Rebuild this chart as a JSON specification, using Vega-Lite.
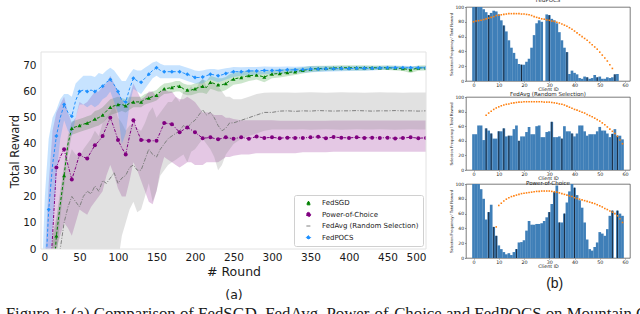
{
"$schema": "https://vega.github.io/schema/vega-lite/v6.json",
"padding": {"left": 5, "top": -3, "right": 0, "bottom": 0},
"background": "white",
"config": {"font": "DejaVu Sans", "axis": {"grid": false, "labelColor": "#1a1a1a", "titleColor": "#1a1a1a", "titleFontWeight": "normal", "labelOverlap": false}, "title": {"fontWeight": "normal", "color": "#1a1a1a"},
"legend": {"orient": "bottom-right", "offset": 3, "fillColor": "white", "strokeColor": "#d0d0d0", "padding": 4, "labelFontSize": 7, "labelFont": "DejaVu Sans", "labelColor": "#1a1a1a", "rowPadding": 3.5, "cornerRadius": 2, "clipHeight": 8, "symbolSize": 18, "symbolStrokeWidth": 1, "symbolOffset": 7, "labelOffset": 10}},
"title": {"text": "Figure 1: (a) Comparison of FedSGD, FedAvg, Power-of-Choice and FedPOCS on Mountain Car", "orient": "bottom", "anchor": "start", "font": "Liberation Serif", "fontSize": 16.8, "offset": 5, "dx": -4},
"spacing": 22,
"resolve": {"scale": {"color": "independent", "shape": "independent", "fillOpacity": "independent", "strokeDash": "independent"}, "legend": {"color": "independent", "shape": "independent"}},
"datasets": {
"curves": [
{"s":"FedSGD","r":0,"lo":-120,"m":-80,"hi":-40},{"s":"FedSGD","r":5,"lo":-100,"m":-65,"hi":-30},{"s":"FedSGD","r":10,"lo":-80,"m":-45,"hi":-15},{"s":"FedSGD","r":15,"lo":-40,"m":-15,"hi":5},{"s":"FedSGD","r":20,"lo":-5,"m":5,"hi":12},{"s":"FedSGD","r":25,"lo":12,"m":17,"hi":22},{"s":"FedSGD","r":30,"lo":24,"m":28,"hi":32},{"s":"FedSGD","r":35,"lo":36,"m":40,"hi":43},{"s":"FedSGD","r":40,"lo":43.5,"m":46,"hi":48.5},{"s":"FedSGD","r":45,"lo":44,"m":46.5,"hi":49},{"s":"FedSGD","r":50,"lo":44.5,"m":47,"hi":49.5},{"s":"FedSGD","r":55,"lo":45,"m":47.5,"hi":50},{"s":"FedSGD","r":60,"lo":45.5,"m":48,"hi":50.5},{"s":"FedSGD","r":65,"lo":46,"m":48.5,"hi":51},{"s":"FedSGD","r":70,"lo":46.5,"m":49.5,"hi":52.5},{"s":"FedSGD","r":75,"lo":47,"m":50,"hi":53},{"s":"FedSGD","r":80,"lo":48,"m":51,"hi":54},{"s":"FedSGD","r":85,"lo":49.5,"m":52.5,"hi":55.5},{"s":"FedSGD","r":90,"lo":51,"m":54,"hi":57},{"s":"FedSGD","r":95,"lo":51.5,"m":54.5,"hi":57.5},{"s":"FedSGD","r":100,"lo":52,"m":55,"hi":58},{"s":"FedSGD","r":105,"lo":52.5,"m":55,"hi":57.5},{"s":"FedSGD","r":110,"lo":52,"m":54.5,"hi":57},{"s":"FedSGD","r":115,"lo":53,"m":55.5,"hi":58},{"s":"FedSGD","r":120,"lo":54,"m":56,"hi":58},{"s":"FedSGD","r":125,"lo":54,"m":56,"hi":58},{"s":"FedSGD","r":130,"lo":54,"m":56,"hi":58},{"s":"FedSGD","r":135,"lo":55,"m":57,"hi":59},{"s":"FedSGD","r":140,"lo":55.5,"m":57.5,"hi":59.5},{"s":"FedSGD","r":145,"lo":56,"m":58,"hi":60},{"s":"FedSGD","r":150,"lo":56.5,"m":58.5,"hi":60.5},{"s":"FedSGD","r":155,"lo":58,"m":60,"hi":62},{"s":"FedSGD","r":160,"lo":59,"m":61,"hi":63},{"s":"FedSGD","r":165,"lo":59.2,"m":61.2,"hi":63.2},{"s":"FedSGD","r":170,"lo":59.5,"m":61.5,"hi":63.5},{"s":"FedSGD","r":175,"lo":60,"m":62,"hi":64},{"s":"FedSGD","r":180,"lo":60,"m":62,"hi":64},{"s":"FedSGD","r":185,"lo":59,"m":61,"hi":63},{"s":"FedSGD","r":190,"lo":58.5,"m":60.5,"hi":62.5},{"s":"FedSGD","r":195,"lo":58.5,"m":60.5,"hi":62.5},{"s":"FedSGD","r":200,"lo":59,"m":61,"hi":63},{"s":"FedSGD","r":205,"lo":59.5,"m":61.5,"hi":63.5},{"s":"FedSGD","r":210,"lo":59.5,"m":62,"hi":64.5},{"s":"FedSGD","r":215,"lo":59,"m":61.5,"hi":64},{"s":"FedSGD","r":220,"lo":61,"m":63.5,"hi":66},{"s":"FedSGD","r":225,"lo":60.5,"m":63,"hi":65.5},{"s":"FedSGD","r":230,"lo":60,"m":62.5,"hi":65},{"s":"FedSGD","r":235,"lo":60,"m":62.5,"hi":65},{"s":"FedSGD","r":240,"lo":60.5,"m":63,"hi":65.5},{"s":"FedSGD","r":245,"lo":61.5,"m":64,"hi":66.5},{"s":"FedSGD","r":250,"lo":62.5,"m":64.7,"hi":67},{"s":"FedSGD","r":260,"lo":63,"m":65.3,"hi":67.5},{"s":"FedSGD","r":270,"lo":64,"m":66,"hi":68},{"s":"FedSGD","r":280,"lo":64.5,"m":66.2,"hi":68},{"s":"FedSGD","r":290,"lo":63.5,"m":65.5,"hi":67.5},{"s":"FedSGD","r":300,"lo":65,"m":66.6,"hi":68.2},{"s":"FedSGD","r":310,"lo":65.3,"m":66.8,"hi":68.3},{"s":"FedSGD","r":320,"lo":65.8,"m":67.2,"hi":68.6},{"s":"FedSGD","r":330,"lo":66.2,"m":67.5,"hi":68.8},{"s":"FedSGD","r":340,"lo":66.8,"m":68,"hi":69.2},{"s":"FedSGD","r":350,"lo":67.3,"m":68.5,"hi":69.7},{"s":"FedSGD","r":360,"lo":67.6,"m":68.7,"hi":69.8},{"s":"FedSGD","r":370,"lo":67.8,"m":68.8,"hi":69.8},{"s":"FedSGD","r":380,"lo":67.9,"m":68.9,"hi":69.9},{"s":"FedSGD","r":390,"lo":68,"m":69,"hi":70},{"s":"FedSGD","r":400,"lo":68,"m":69,"hi":70},{"s":"FedSGD","r":410,"lo":68,"m":69,"hi":70},{"s":"FedSGD","r":420,"lo":68,"m":69,"hi":70},{"s":"FedSGD","r":430,"lo":68.1,"m":69,"hi":69.9},{"s":"FedSGD","r":440,"lo":68.1,"m":69,"hi":69.9},{"s":"FedSGD","r":450,"lo":68.1,"m":69,"hi":69.9},{"s":"FedSGD","r":460,"lo":68,"m":68.9,"hi":69.8},{"s":"FedSGD","r":470,"lo":67.8,"m":68.7,"hi":69.6},{"s":"FedSGD","r":480,"lo":67,"m":68.2,"hi":69.4},{"s":"FedSGD","r":490,"lo":67.9,"m":68.9,"hi":69.9},{"s":"FedSGD","r":500,"lo":68,"m":69,"hi":70},
{"s":"Power-of-Choice","r":0,"lo":-150,"m":-60,"hi":-20},{"s":"Power-of-Choice","r":5,"lo":-120,"m":-40,"hi":-5},{"s":"Power-of-Choice","r":10,"lo":-80,"m":-20,"hi":25},{"s":"Power-of-Choice","r":15,"lo":-40,"m":5,"hi":45},{"s":"Power-of-Choice","r":20,"lo":0,"m":31,"hi":52},{"s":"Power-of-Choice","r":25,"lo":5,"m":35,"hi":55},{"s":"Power-of-Choice","r":30,"lo":10,"m":38,"hi":58},{"s":"Power-of-Choice","r":35,"lo":8,"m":32,"hi":52},{"s":"Power-of-Choice","r":40,"lo":5,"m":26.5,"hi":48},{"s":"Power-of-Choice","r":45,"lo":10,"m":31,"hi":50},{"s":"Power-of-Choice","r":50,"lo":15,"m":36,"hi":56},{"s":"Power-of-Choice","r":55,"lo":14,"m":35,"hi":55},{"s":"Power-of-Choice","r":60,"lo":13,"m":34.5,"hi":56},{"s":"Power-of-Choice","r":65,"lo":16,"m":37,"hi":58},{"s":"Power-of-Choice","r":70,"lo":18,"m":39.5,"hi":60},{"s":"Power-of-Choice","r":75,"lo":20,"m":41,"hi":60},{"s":"Power-of-Choice","r":80,"lo":22,"m":43,"hi":62},{"s":"Power-of-Choice","r":85,"lo":28,"m":46.5,"hi":63},{"s":"Power-of-Choice","r":90,"lo":32,"m":50,"hi":66},{"s":"Power-of-Choice","r":95,"lo":28,"m":46,"hi":63},{"s":"Power-of-Choice","r":100,"lo":23,"m":41.5,"hi":60},{"s":"Power-of-Choice","r":105,"lo":20,"m":38.5,"hi":57},{"s":"Power-of-Choice","r":110,"lo":20,"m":36,"hi":54},{"s":"Power-of-Choice","r":115,"lo":26,"m":43,"hi":58},{"s":"Power-of-Choice","r":120,"lo":33,"m":49,"hi":63},{"s":"Power-of-Choice","r":125,"lo":30,"m":45,"hi":60},{"s":"Power-of-Choice","r":130,"lo":26,"m":41.5,"hi":57},{"s":"Power-of-Choice","r":135,"lo":22,"m":41.5,"hi":58},{"s":"Power-of-Choice","r":140,"lo":18,"m":41.2,"hi":60},{"s":"Power-of-Choice","r":145,"lo":17,"m":41.2,"hi":60},{"s":"Power-of-Choice","r":150,"lo":22,"m":41.2,"hi":58},{"s":"Power-of-Choice","r":155,"lo":30,"m":44.5,"hi":60},{"s":"Power-of-Choice","r":160,"lo":35,"m":48,"hi":61},{"s":"Power-of-Choice","r":165,"lo":34,"m":47.8,"hi":60},{"s":"Power-of-Choice","r":170,"lo":33,"m":47.5,"hi":60},{"s":"Power-of-Choice","r":175,"lo":32,"m":46,"hi":58},{"s":"Power-of-Choice","r":180,"lo":31,"m":44.4,"hi":57},{"s":"Power-of-Choice","r":185,"lo":32,"m":45.4,"hi":57},{"s":"Power-of-Choice","r":190,"lo":33,"m":46.3,"hi":58},{"s":"Power-of-Choice","r":195,"lo":33,"m":45.4,"hi":57},{"s":"Power-of-Choice","r":200,"lo":32,"m":44.4,"hi":56},{"s":"Power-of-Choice","r":205,"lo":32,"m":43.3,"hi":54},{"s":"Power-of-Choice","r":210,"lo":32,"m":42.2,"hi":52},{"s":"Power-of-Choice","r":215,"lo":33,"m":42.3,"hi":52},{"s":"Power-of-Choice","r":220,"lo":33,"m":42.5,"hi":52},{"s":"Power-of-Choice","r":225,"lo":33,"m":42.1,"hi":51},{"s":"Power-of-Choice","r":230,"lo":33,"m":41.8,"hi":51},{"s":"Power-of-Choice","r":235,"lo":34,"m":42.1,"hi":51},{"s":"Power-of-Choice","r":240,"lo":35,"m":42.5,"hi":50},{"s":"Power-of-Choice","r":245,"lo":35,"m":42.2,"hi":50},{"s":"Power-of-Choice","r":250,"lo":35.5,"m":42,"hi":49.5},{"s":"Power-of-Choice","r":260,"lo":36,"m":42.5,"hi":49},{"s":"Power-of-Choice","r":270,"lo":36,"m":42,"hi":49},{"s":"Power-of-Choice","r":280,"lo":36.5,"m":42.8,"hi":49},{"s":"Power-of-Choice","r":290,"lo":36.5,"m":42.3,"hi":49},{"s":"Power-of-Choice","r":300,"lo":36.5,"m":42.5,"hi":49},{"s":"Power-of-Choice","r":310,"lo":36.5,"m":42.2,"hi":48.8},{"s":"Power-of-Choice","r":320,"lo":36.5,"m":42.4,"hi":48.8},{"s":"Power-of-Choice","r":330,"lo":36.5,"m":42.3,"hi":48.8},{"s":"Power-of-Choice","r":340,"lo":36.8,"m":42.3,"hi":48.8},{"s":"Power-of-Choice","r":350,"lo":36.8,"m":42.5,"hi":48.8},{"s":"Power-of-Choice","r":360,"lo":36.8,"m":42.7,"hi":48.8},{"s":"Power-of-Choice","r":370,"lo":36.8,"m":42.2,"hi":48.8},{"s":"Power-of-Choice","r":380,"lo":37,"m":42.6,"hi":48.9},{"s":"Power-of-Choice","r":390,"lo":37,"m":42.4,"hi":48.9},{"s":"Power-of-Choice","r":400,"lo":37,"m":42.3,"hi":48.9},{"s":"Power-of-Choice","r":410,"lo":37,"m":42.5,"hi":48.9},{"s":"Power-of-Choice","r":420,"lo":37,"m":42.3,"hi":48.9},{"s":"Power-of-Choice","r":430,"lo":37,"m":42.4,"hi":48.9},{"s":"Power-of-Choice","r":440,"lo":37,"m":42.3,"hi":48.9},{"s":"Power-of-Choice","r":450,"lo":37,"m":42.4,"hi":48.9},{"s":"Power-of-Choice","r":460,"lo":37,"m":42.1,"hi":48.9},{"s":"Power-of-Choice","r":470,"lo":37,"m":42.3,"hi":48.9},{"s":"Power-of-Choice","r":480,"lo":37,"m":42.5,"hi":48.9},{"s":"Power-of-Choice","r":490,"lo":37,"m":42.2,"hi":48.9},{"s":"Power-of-Choice","r":500,"lo":37,"m":42.3,"hi":48.9},
{"s":"FedAvg (Random Selection)","r":0,"lo":-200,"m":-80,"hi":-40},{"s":"FedAvg (Random Selection)","r":5,"lo":-180,"m":-60,"hi":-25},{"s":"FedAvg (Random Selection)","r":10,"lo":-150,"m":-40,"hi":-10},{"s":"FedAvg (Random Selection)","r":15,"lo":-100,"m":-20,"hi":2},{"s":"FedAvg (Random Selection)","r":20,"lo":-50,"m":-8,"hi":10},{"s":"FedAvg (Random Selection)","r":25,"lo":-40,"m":0,"hi":18},{"s":"FedAvg (Random Selection)","r":30,"lo":-30,"m":10,"hi":28},{"s":"FedAvg (Random Selection)","r":35,"lo":-20,"m":16,"hi":33},{"s":"FedAvg (Random Selection)","r":40,"lo":-15,"m":20,"hi":38},{"s":"FedAvg (Random Selection)","r":45,"lo":-20,"m":18,"hi":36},{"s":"FedAvg (Random Selection)","r":50,"lo":-25,"m":16,"hi":35},{"s":"FedAvg (Random Selection)","r":55,"lo":-15,"m":20,"hi":38},{"s":"FedAvg (Random Selection)","r":60,"lo":-10,"m":22,"hi":40},{"s":"FedAvg (Random Selection)","r":65,"lo":-5,"m":21,"hi":42},{"s":"FedAvg (Random Selection)","r":70,"lo":-3,"m":24,"hi":45},{"s":"FedAvg (Random Selection)","r":75,"lo":-8,"m":22,"hi":43},{"s":"FedAvg (Random Selection)","r":80,"lo":-2,"m":26,"hi":48},{"s":"FedAvg (Random Selection)","r":85,"lo":-8,"m":25,"hi":50},{"s":"FedAvg (Random Selection)","r":90,"lo":-5,"m":27,"hi":52},{"s":"FedAvg (Random Selection)","r":95,"lo":0,"m":29,"hi":55},{"s":"FedAvg (Random Selection)","r":100,"lo":-5,"m":25,"hi":50},{"s":"FedAvg (Random Selection)","r":105,"lo":5,"m":27,"hi":48},{"s":"FedAvg (Random Selection)","r":110,"lo":10,"m":28,"hi":45},{"s":"FedAvg (Random Selection)","r":115,"lo":15,"m":31,"hi":47},{"s":"FedAvg (Random Selection)","r":120,"lo":18,"m":32,"hi":48},{"s":"FedAvg (Random Selection)","r":125,"lo":14,"m":30,"hi":46},{"s":"FedAvg (Random Selection)","r":130,"lo":15,"m":30,"hi":45},{"s":"FedAvg (Random Selection)","r":135,"lo":20,"m":34,"hi":48},{"s":"FedAvg (Random Selection)","r":140,"lo":25,"m":38,"hi":52},{"s":"FedAvg (Random Selection)","r":145,"lo":18,"m":36,"hi":54},{"s":"FedAvg (Random Selection)","r":150,"lo":22,"m":35,"hi":50},{"s":"FedAvg (Random Selection)","r":155,"lo":28,"m":38,"hi":52},{"s":"FedAvg (Random Selection)","r":160,"lo":30,"m":40,"hi":54},{"s":"FedAvg (Random Selection)","r":165,"lo":32,"m":42,"hi":56},{"s":"FedAvg (Random Selection)","r":170,"lo":33,"m":43,"hi":56},{"s":"FedAvg (Random Selection)","r":175,"lo":34,"m":44,"hi":58},{"s":"FedAvg (Random Selection)","r":180,"lo":35,"m":45,"hi":56},{"s":"FedAvg (Random Selection)","r":185,"lo":36,"m":47,"hi":60},{"s":"FedAvg (Random Selection)","r":190,"lo":33,"m":46,"hi":60},{"s":"FedAvg (Random Selection)","r":195,"lo":37,"m":48,"hi":62},{"s":"FedAvg (Random Selection)","r":200,"lo":38,"m":49,"hi":60},{"s":"FedAvg (Random Selection)","r":205,"lo":40,"m":51,"hi":63},{"s":"FedAvg (Random Selection)","r":210,"lo":42,"m":53,"hi":65},{"s":"FedAvg (Random Selection)","r":215,"lo":40,"m":51,"hi":62},{"s":"FedAvg (Random Selection)","r":220,"lo":38,"m":52,"hi":64},{"s":"FedAvg (Random Selection)","r":225,"lo":35,"m":50,"hi":63},{"s":"FedAvg (Random Selection)","r":230,"lo":30,"m":47,"hi":62},{"s":"FedAvg (Random Selection)","r":235,"lo":32,"m":45,"hi":60},{"s":"FedAvg (Random Selection)","r":240,"lo":36,"m":46,"hi":58},{"s":"FedAvg (Random Selection)","r":245,"lo":38,"m":48,"hi":58},{"s":"FedAvg (Random Selection)","r":250,"lo":40,"m":48,"hi":57},{"s":"FedAvg (Random Selection)","r":260,"lo":42,"m":49,"hi":57},{"s":"FedAvg (Random Selection)","r":270,"lo":43,"m":50,"hi":58},{"s":"FedAvg (Random Selection)","r":280,"lo":44,"m":51,"hi":59},{"s":"FedAvg (Random Selection)","r":290,"lo":45,"m":52,"hi":59.5},{"s":"FedAvg (Random Selection)","r":300,"lo":45.5,"m":52,"hi":59.6},{"s":"FedAvg (Random Selection)","r":310,"lo":45.5,"m":52.5,"hi":59.6},{"s":"FedAvg (Random Selection)","r":320,"lo":45.5,"m":52.6,"hi":59.6},{"s":"FedAvg (Random Selection)","r":330,"lo":45.5,"m":52.4,"hi":59.5},{"s":"FedAvg (Random Selection)","r":340,"lo":45.6,"m":52.6,"hi":59.6},{"s":"FedAvg (Random Selection)","r":350,"lo":45.4,"m":52.5,"hi":59.7},{"s":"FedAvg (Random Selection)","r":360,"lo":45.5,"m":52.7,"hi":59.6},{"s":"FedAvg (Random Selection)","r":370,"lo":45.6,"m":52.6,"hi":59.5},{"s":"FedAvg (Random Selection)","r":380,"lo":45.5,"m":52.5,"hi":59.6},{"s":"FedAvg (Random Selection)","r":390,"lo":45.4,"m":52.6,"hi":59.7},{"s":"FedAvg (Random Selection)","r":400,"lo":45.5,"m":52.6,"hi":59.6},{"s":"FedAvg (Random Selection)","r":410,"lo":45.6,"m":52.7,"hi":59.6},{"s":"FedAvg (Random Selection)","r":420,"lo":45.5,"m":52.6,"hi":59.5},{"s":"FedAvg (Random Selection)","r":430,"lo":45.5,"m":52.5,"hi":59.6},{"s":"FedAvg (Random Selection)","r":440,"lo":45.6,"m":52.6,"hi":59.7},{"s":"FedAvg (Random Selection)","r":450,"lo":45.5,"m":52.6,"hi":59.6},{"s":"FedAvg (Random Selection)","r":460,"lo":45.4,"m":52.7,"hi":59.6},{"s":"FedAvg (Random Selection)","r":470,"lo":45.5,"m":52.6,"hi":59.5},{"s":"FedAvg (Random Selection)","r":480,"lo":45.6,"m":52.6,"hi":59.6},{"s":"FedAvg (Random Selection)","r":490,"lo":45.5,"m":52.5,"hi":59.6},{"s":"FedAvg (Random Selection)","r":500,"lo":45.5,"m":52.6,"hi":59.6},
{"s":"FedPOCS","r":0,"lo":-100,"m":-60,"hi":-20},{"s":"FedPOCS","r":5,"lo":-60,"m":-15,"hi":20},{"s":"FedPOCS","r":10,"lo":-15,"m":15,"hi":42},{"s":"FedPOCS","r":15,"lo":8,"m":32,"hi":50},{"s":"FedPOCS","r":20,"lo":28,"m":43,"hi":53},{"s":"FedPOCS","r":25,"lo":42,"m":50,"hi":57},{"s":"FedPOCS","r":30,"lo":49,"m":55,"hi":59},{"s":"FedPOCS","r":35,"lo":45,"m":52,"hi":59},{"s":"FedPOCS","r":40,"lo":43,"m":50.5,"hi":58},{"s":"FedPOCS","r":45,"lo":50,"m":56.5,"hi":63},{"s":"FedPOCS","r":50,"lo":55,"m":60,"hi":64.5},{"s":"FedPOCS","r":55,"lo":55,"m":60.5,"hi":66},{"s":"FedPOCS","r":60,"lo":54,"m":60,"hi":66},{"s":"FedPOCS","r":65,"lo":55,"m":60.5,"hi":66},{"s":"FedPOCS","r":70,"lo":54,"m":60,"hi":65.5},{"s":"FedPOCS","r":75,"lo":55,"m":61,"hi":67},{"s":"FedPOCS","r":80,"lo":57,"m":62,"hi":66.5},{"s":"FedPOCS","r":85,"lo":58,"m":63.5,"hi":68},{"s":"FedPOCS","r":90,"lo":60,"m":64.5,"hi":69},{"s":"FedPOCS","r":95,"lo":56,"m":62.5,"hi":68},{"s":"FedPOCS","r":100,"lo":52,"m":60,"hi":66},{"s":"FedPOCS","r":105,"lo":40,"m":56.5,"hi":64},{"s":"FedPOCS","r":110,"lo":44,"m":56,"hi":64},{"s":"FedPOCS","r":115,"lo":55,"m":61,"hi":66.5},{"s":"FedPOCS","r":120,"lo":61,"m":65,"hi":68.5},{"s":"FedPOCS","r":125,"lo":60,"m":64,"hi":68},{"s":"FedPOCS","r":130,"lo":59,"m":63.5,"hi":68},{"s":"FedPOCS","r":135,"lo":61,"m":65,"hi":69},{"s":"FedPOCS","r":140,"lo":63,"m":66.5,"hi":70},{"s":"FedPOCS","r":145,"lo":65,"m":68,"hi":71},{"s":"FedPOCS","r":150,"lo":66,"m":69,"hi":71.5},{"s":"FedPOCS","r":155,"lo":65,"m":68,"hi":70.5},{"s":"FedPOCS","r":160,"lo":65,"m":67.5,"hi":70},{"s":"FedPOCS","r":165,"lo":65,"m":67.5,"hi":70},{"s":"FedPOCS","r":170,"lo":65,"m":67.5,"hi":70},{"s":"FedPOCS","r":175,"lo":65,"m":67.5,"hi":70},{"s":"FedPOCS","r":180,"lo":65,"m":67.5,"hi":70},{"s":"FedPOCS","r":185,"lo":64.5,"m":67,"hi":69.5},{"s":"FedPOCS","r":190,"lo":64,"m":66.5,"hi":69},{"s":"FedPOCS","r":195,"lo":63.5,"m":66,"hi":68.5},{"s":"FedPOCS","r":200,"lo":63,"m":65.3,"hi":68},{"s":"FedPOCS","r":205,"lo":63,"m":65.3,"hi":67.8},{"s":"FedPOCS","r":210,"lo":63,"m":65.5,"hi":68},{"s":"FedPOCS","r":215,"lo":64,"m":66,"hi":68.3},{"s":"FedPOCS","r":220,"lo":64.5,"m":66.5,"hi":68.5},{"s":"FedPOCS","r":225,"lo":64,"m":66.3,"hi":68.5},{"s":"FedPOCS","r":230,"lo":63.5,"m":66,"hi":68.2},{"s":"FedPOCS","r":235,"lo":64,"m":66.3,"hi":68.5},{"s":"FedPOCS","r":240,"lo":64.5,"m":66.8,"hi":68.8},{"s":"FedPOCS","r":245,"lo":65,"m":67.2,"hi":69},{"s":"FedPOCS","r":250,"lo":65.5,"m":67.5,"hi":69.3},{"s":"FedPOCS","r":260,"lo":66,"m":67.5,"hi":69.2},{"s":"FedPOCS","r":270,"lo":66.2,"m":67.8,"hi":69.3},{"s":"FedPOCS","r":280,"lo":66.3,"m":67.8,"hi":69.3},{"s":"FedPOCS","r":290,"lo":66.5,"m":68,"hi":69.5},{"s":"FedPOCS","r":300,"lo":66.6,"m":68,"hi":69.4},{"s":"FedPOCS","r":310,"lo":66.7,"m":68,"hi":69.4},{"s":"FedPOCS","r":320,"lo":66.9,"m":68.2,"hi":69.5},{"s":"FedPOCS","r":330,"lo":67,"m":68.2,"hi":69.4},{"s":"FedPOCS","r":340,"lo":67.1,"m":68.3,"hi":69.5},{"s":"FedPOCS","r":350,"lo":67.3,"m":68.5,"hi":69.7},{"s":"FedPOCS","r":360,"lo":67.4,"m":68.5,"hi":69.6},{"s":"FedPOCS","r":370,"lo":67.5,"m":68.6,"hi":69.7},{"s":"FedPOCS","r":380,"lo":67.6,"m":68.6,"hi":69.6},{"s":"FedPOCS","r":390,"lo":67.7,"m":68.7,"hi":69.7},{"s":"FedPOCS","r":400,"lo":67.8,"m":68.7,"hi":69.6},{"s":"FedPOCS","r":410,"lo":67.9,"m":68.8,"hi":69.7},{"s":"FedPOCS","r":420,"lo":67.9,"m":68.8,"hi":69.7},{"s":"FedPOCS","r":430,"lo":68,"m":68.8,"hi":69.6},{"s":"FedPOCS","r":440,"lo":68.1,"m":68.9,"hi":69.7},{"s":"FedPOCS","r":450,"lo":68.2,"m":69,"hi":69.8},{"s":"FedPOCS","r":460,"lo":68.2,"m":69,"hi":69.8},{"s":"FedPOCS","r":470,"lo":68.2,"m":69,"hi":69.8},{"s":"FedPOCS","r":480,"lo":68.3,"m":69,"hi":69.7},{"s":"FedPOCS","r":490,"lo":68.3,"m":69,"hi":69.7},{"s":"FedPOCS","r":500,"lo":68.3,"m":69,"hi":69.7}
],
"b1": [
{"c":0,"v":100,"o":80},{"c":1,"v":100,"o":81,"e":1},{"c":2,"v":100,"o":81.5},{"c":3,"v":100,"o":82},{"c":4,"v":97,"o":83},{"c":5,"v":93,"o":84},{"c":6,"v":89,"o":85,"e":1},{"c":7,"v":92,"o":86},{"c":8,"v":95,"o":87},{"c":9,"v":94,"o":88.5},{"c":10,"v":90,"o":89},{"c":11,"v":82,"o":89.5},{"c":12,"v":75,"o":90,"e":1},{"c":13,"v":67,"o":90.5},{"c":14,"v":55,"o":91},{"c":15,"v":45,"o":91},{"c":16,"v":38,"o":91},{"c":17,"v":30,"o":91},{"c":18,"v":23,"o":91},{"c":19,"v":22,"o":90.5,"e":1},{"c":20,"v":22,"o":90.5},{"c":21,"v":26,"o":90},{"c":22,"v":30,"o":89.5},{"c":23,"v":45,"o":88.5},{"c":24,"v":62,"o":87},{"c":25,"v":78,"o":86},{"c":26,"v":82,"o":85},{"c":27,"v":80,"o":84},{"c":28,"v":0,"o":83.5},{"c":29,"v":90,"o":82.5},{"c":30,"v":89,"o":82,"e":1},{"c":31,"v":84,"o":81},{"c":32,"v":82,"o":80.5},{"c":33,"v":78,"o":79.5},{"c":34,"v":66,"o":78.5},{"c":35,"v":55,"o":77},{"c":36,"v":45,"o":75.5},{"c":37,"v":39,"o":74,"e":1},{"c":38,"v":9.5,"o":72},{"c":39,"v":14,"o":70},{"c":40,"v":11,"o":67.5},{"c":41,"v":9,"o":65},{"c":42,"v":4,"o":62.5},{"c":43,"v":3,"o":60},{"c":44,"v":6,"o":57.5},{"c":45,"v":5,"o":55,"e":1},{"c":46,"v":3,"o":52},{"c":47,"v":4,"o":49},{"c":48,"v":8,"o":46},{"c":49,"v":5,"o":43,"e":1},{"c":50,"v":6,"o":39},{"c":51,"v":3,"o":35},{"c":52,"v":3,"o":31},{"c":53,"v":5,"o":27},{"c":54,"v":4,"o":22},{"c":55,"v":5,"o":17},{"c":56,"v":9,"e":1},{"c":57,"v":9.5},{"c":58,"v":0},{"c":59,"v":0}
],
"b2": [
{"c":0,"v":49},{"c":1,"v":49},{"c":2,"v":61},{"c":3,"v":61},{"c":4,"v":41},{"c":5,"v":57,"o":75,"e":1},{"c":6,"v":54,"o":78},{"c":7,"v":50,"o":80.5,"e":1},{"c":8,"v":43,"o":83},{"c":9,"v":43,"o":85},{"c":10,"v":53,"o":86.5,"e":1},{"c":11,"v":53,"o":88},{"c":12,"v":57,"o":89,"e":1},{"c":13,"v":46,"o":90},{"c":14,"v":47,"o":90.5,"e":1},{"c":15,"v":47,"o":91.5},{"c":16,"v":56,"o":92},{"c":17,"v":61,"o":92.5},{"c":18,"v":40,"o":93,"e":1},{"c":19,"v":46,"o":93},{"c":20,"v":46,"o":93.5},{"c":21,"v":52,"o":93.5},{"c":22,"v":59,"o":93.5},{"c":23,"v":49,"o":93.5},{"c":24,"v":49,"o":93.5},{"c":25,"v":60,"o":93.5},{"c":26,"v":61,"o":93.5},{"c":27,"v":45,"o":93.5},{"c":28,"v":45,"o":93},{"c":29,"v":52,"o":93},{"c":30,"v":53,"o":93},{"c":31,"v":66,"o":92.5,"e":1},{"c":32,"v":45,"o":92},{"c":33,"v":45,"o":91.5},{"c":34,"v":46,"o":90.5},{"c":35,"v":43,"o":90,"e":1},{"c":36,"v":60,"o":89},{"c":37,"v":53,"o":87.5},{"c":38,"v":53,"o":86},{"c":39,"v":50,"o":84.5,"e":1},{"c":40,"v":46,"o":83},{"c":41,"v":50,"o":82},{"c":42,"v":61,"o":80.5},{"c":43,"v":61,"o":79},{"c":44,"v":53,"o":78},{"c":45,"v":47,"o":76},{"c":46,"v":49,"o":74.5},{"c":47,"v":49,"o":73},{"c":48,"v":49,"o":71},{"c":49,"v":53,"o":69},{"c":50,"v":59,"o":67},{"c":51,"v":54,"o":64.5},{"c":52,"v":54,"o":62},{"c":53,"v":50,"o":59},{"c":54,"v":45,"o":56},{"c":55,"v":49.5,"o":53,"e":1},{"c":56,"v":56,"o":50},{"c":57,"v":47,"o":46,"e":1},{"c":58,"v":47,"o":41},{"c":59,"v":42,"o":36}
],
"b3": [
{"c":0,"v":100},{"c":1,"v":100},{"c":2,"v":100},{"c":3,"v":93},{"c":4,"v":80},{"c":5,"v":52},{"c":6,"v":62,"e":1},{"c":7,"v":72},{"c":8,"v":42,"e":1},{"c":9,"v":30,"o":42,"e":1},{"c":10,"v":17,"o":71},{"c":11,"v":12,"o":74},{"c":12,"v":8,"o":77},{"c":13,"v":5,"o":79.5},{"c":14,"v":6.5,"o":81.5},{"c":15,"v":4,"o":83},{"c":16,"v":8,"o":84},{"c":17,"v":12,"o":85,"e":1},{"c":18,"v":21,"o":86},{"c":19,"v":21.5,"o":87},{"c":20,"v":24,"o":87.5},{"c":21,"v":37,"o":88},{"c":22,"v":50,"o":88.5},{"c":23,"v":45,"o":89},{"c":24,"v":45,"o":89.5},{"c":25,"v":46,"o":90},{"c":26,"v":46,"o":90},{"c":27,"v":47,"o":90.5},{"c":28,"v":50,"o":90.5},{"c":29,"v":55,"o":90.5},{"c":30,"v":62,"o":90.5,"e":1},{"c":31,"v":73,"o":90},{"c":32,"v":89,"o":89.5,"e":1},{"c":33,"v":98,"o":89},{"c":34,"v":48,"o":88,"e":1},{"c":35,"v":48,"o":87},{"c":36,"v":60,"o":86,"e":1},{"c":37,"v":75,"o":85},{"c":38,"v":90,"o":84},{"c":39,"v":100,"o":83},{"c":40,"v":95,"o":81.5,"e":1},{"c":41,"v":85,"o":80.5},{"c":42,"v":78,"o":79.5},{"c":43,"v":68,"o":78.5},{"c":44,"v":48,"o":77.5},{"c":45,"v":25,"o":76.5},{"c":46,"v":12,"o":75.5},{"c":47,"v":10,"o":74.5},{"c":48,"v":15,"o":73.5},{"c":49,"v":21,"o":72},{"c":50,"v":35,"o":70.5},{"c":51,"v":33,"o":69},{"c":52,"v":30,"o":67},{"c":53,"v":39,"o":65.5},{"c":54,"v":57,"o":63.5},{"c":55,"v":64,"o":62,"e":1},{"c":56,"v":0,"o":60},{"c":57,"v":64,"o":57,"e":1},{"c":58,"v":60,"o":53},{"c":59,"v":57,"o":48}
]
},
"hconcat": [
{
"width": 385, "height": 242,
"view": {"stroke": null},
"layer": [
{"data": {"name": "curves"}, "mark": {"type": "area", "clip": true}, "encoding": {"x": {"field": "r", "type": "quantitative", "scale": {"domain": [0, 500], "nice": false}, "axis": {"values": [0,50,100,150,200,250,300,350,400,450,500], "labelFontSize": 10.5, "labelPadding": 3, "ticks": false, "domain": false, "title": ["# Round", "(a)"], "titleFontSize": 12.5, "titlePadding": 3, "titleLineHeight": 23}}, "y": {"field": "lo", "type": "quantitative", "scale": {"domain": [0, 92.13], "nice": false}, "axis": {"values": [0,10,20,30,40,50,60,70], "labelFontSize": 10.5, "labelPadding": 5, "ticks": false, "domain": false, "title": "Total Reward", "titleFontSize": 11.5, "titlePadding": 2, "titleY": 144}}, "y2": {"field": "hi"}, "color": {"field": "s", "type": "nominal", "scale": {"domain": ["FedSGD", "Power-of-Choice", "FedAvg (Random Selection)", "FedPOCS"], "range": ["#008000", "#800080", "#808080", "#1e90ff"]}, "legend": {"title": null}}, "fillOpacity": {"field": "s", "type": "nominal", "scale": {"domain": ["FedSGD", "Power-of-Choice", "FedAvg (Random Selection)", "FedPOCS"], "range": [0.2, 0.25, 0.42, 0.3]}, "legend": null}}},
{"data": {"name": "curves"}, "mark": {"type": "line", "clip": true, "strokeWidth": 1}, "encoding": {"x": {"field": "r", "type": "quantitative", "axis": {"values": [0,50,100,150,200,250,300,350,400,450,500], "labelFontSize": 10.5, "labelPadding": 3, "ticks": false, "domain": false, "title": ["# Round", "(a)"], "titleFontSize": 12.5, "titlePadding": 3, "titleLineHeight": 23}}, "y": {"field": "m", "type": "quantitative", "axis": {"values": [0,10,20,30,40,50,60,70], "labelFontSize": 10.5, "labelPadding": 5, "ticks": false, "domain": false, "title": "Total Reward", "titleFontSize": 11.5, "titlePadding": 2, "titleY": 144}}, "color": {"field": "s", "type": "nominal", "legend": {"title": null}}, "strokeDash": {"field": "s", "type": "nominal", "scale": {"domain": ["FedSGD", "Power-of-Choice", "FedAvg (Random Selection)", "FedPOCS"], "range": [[3, 2], [3, 1.5, 1, 1.5], [4, 1.5, 1, 1.5], [3, 2]]}, "legend": null}}},
{"data": {"name": "curves"}, "transform": [{"filter": "datum.r % 10 == 0 && datum.s != 'FedAvg (Random Selection)'"}], "mark": {"type": "point", "filled": true, "clip": true, "opacity": 1, "size": 16}, "encoding": {"x": {"field": "r", "type": "quantitative", "axis": {"values": [0,50,100,150,200,250,300,350,400,450,500], "labelFontSize": 10.5, "labelPadding": 3, "ticks": false, "domain": false, "title": ["# Round", "(a)"], "titleFontSize": 12.5, "titlePadding": 3, "titleLineHeight": 23}}, "y": {"field": "m", "type": "quantitative", "axis": {"values": [0,10,20,30,40,50,60,70], "labelFontSize": 10.5, "labelPadding": 5, "ticks": false, "domain": false, "title": "Total Reward", "titleFontSize": 11.5, "titlePadding": 2, "titleY": 144}}, "color": {"field": "s", "type": "nominal", "legend": {"title": null}}, "shape": {"field": "s", "type": "nominal", "scale": {"domain": ["FedSGD", "Power-of-Choice", "FedAvg (Random Selection)", "FedPOCS"], "range": ["triangle-up", "circle", "stroke", "diamond"]}, "legend": {"title": null}}}},
{"data": {"values": [{}]}, "mark": {"type": "rule", "color": "#e2e2e2", "strokeWidth": 1}, "encoding": {"x": {"datum": 0, "type": "quantitative", "axis": {"values": [0,50,100,150,200,250,300,350,400,450,500], "labelFontSize": 10.5, "labelPadding": 3, "ticks": false, "domain": false, "title": ["# Round", "(a)"], "titleFontSize": 12.5, "titlePadding": 3, "titleLineHeight": 23}}, "x2": {"datum": 500}, "y": {"datum": 75, "type": "quantitative", "axis": {"values": [0,10,20,30,40,50,60,70], "labelFontSize": 10.5, "labelPadding": 5, "ticks": false, "domain": false, "title": "Total Reward", "titleFontSize": 11.5, "titlePadding": 2, "titleY": 144}}}},
{"data": {"values": [{}]}, "mark": {"type": "rule", "color": "#e2e2e2", "strokeWidth": 1}, "encoding": {"x": {"datum": 0, "type": "quantitative", "axis": {"values": [0,50,100,150,200,250,300,350,400,450,500], "labelFontSize": 10.5, "labelPadding": 3, "ticks": false, "domain": false, "title": ["# Round", "(a)"], "titleFontSize": 12.5, "titlePadding": 3, "titleLineHeight": 23}}, "x2": {"datum": 500}, "y": {"datum": 0, "type": "quantitative", "axis": {"values": [0,10,20,30,40,50,60,70], "labelFontSize": 10.5, "labelPadding": 5, "ticks": false, "domain": false, "title": "Total Reward", "titleFontSize": 11.5, "titlePadding": 2, "titleY": 144}}}},
{"data": {"values": [{}]}, "mark": {"type": "rule", "color": "#e2e2e2", "strokeWidth": 1}, "encoding": {"x": {"datum": 0, "type": "quantitative", "axis": {"values": [0,50,100,150,200,250,300,350,400,450,500], "labelFontSize": 10.5, "labelPadding": 3, "ticks": false, "domain": false, "title": ["# Round", "(a)"], "titleFontSize": 12.5, "titlePadding": 3, "titleLineHeight": 23}}, "y": {"datum": 0, "type": "quantitative", "axis": {"values": [0,10,20,30,40,50,60,70], "labelFontSize": 10.5, "labelPadding": 5, "ticks": false, "domain": false, "title": "Total Reward", "titleFontSize": 11.5, "titlePadding": 2, "titleY": 144}}, "y2": {"datum": 75}}},
{"data": {"values": [{}]}, "mark": {"type": "rule", "color": "#e2e2e2", "strokeWidth": 1}, "encoding": {"x": {"datum": 500, "type": "quantitative", "axis": {"values": [0,50,100,150,200,250,300,350,400,450,500], "labelFontSize": 10.5, "labelPadding": 3, "ticks": false, "domain": false, "title": ["# Round", "(a)"], "titleFontSize": 12.5, "titlePadding": 3, "titleLineHeight": 23}}, "y": {"datum": 0, "type": "quantitative", "axis": {"values": [0,10,20,30,40,50,60,70], "labelFontSize": 10.5, "labelPadding": 5, "ticks": false, "domain": false, "title": "Total Reward", "titleFontSize": 11.5, "titlePadding": 2, "titleY": 144}}, "y2": {"datum": 75}}}
]
},
{
"spacing": -1,
"title": {"text": "(b)", "orient": "bottom", "anchor": "middle", "dx": 15, "fontSize": 14, "font": "Liberation Sans", "offset": 8},
"vconcat": [
{
"width": 164, "height": 74,
"title": {"text": "FedPOCS", "fontSize": 5.5, "offset": 1},
"data": {"name": "b1"},
"view": {"stroke": "#444444", "strokeWidth": 0.7},
"encoding": {"x": {"field": "c", "type": "quantitative", "scale": {"domain": [-1, 60], "nice": false}, "axis": {"values": [0,10,20,30,40,50,60], "labelFontSize": 4.8, "labelPadding": 0, "tickSize": 1, "domain": false, "title": "Client ID", "titleFontSize": 4.8, "titlePadding": 0}}},
"layer": [
{"mark": {"type": "bar", "width": 2.69, "color": "#3f7fb8"}, "encoding": {"y": {"field": "v", "type": "quantitative", "scale": {"domain": [0, 100], "nice": false}, "axis": {"values": [0,20,40,60,80,100], "labelFontSize": 4.5, "labelPadding": 1, "tickSize": 1.5, "domain": false, "title": "Selection Frequency / Total Reward", "titleFont": "Liberation Sans", "titleFontSize": 4, "titlePadding": 1.5}}}},
{"transform": [{"filter": "datum.e"}], "mark": {"type": "rule", "color": "#1b2a3d", "strokeWidth": 1}, "encoding": {"y": {"field": "v", "type": "quantitative", "axis": {"values": [0,20,40,60,80,100], "labelFontSize": 4.5, "labelPadding": 1, "tickSize": 1.5, "domain": false, "title": "Selection Frequency / Total Reward", "titleFont": "Liberation Sans", "titleFontSize": 4, "titlePadding": 1.5}}, "y2": {"datum": 0}}},
{"transform": [{"filter": "isValid(datum.o)"}], "mark": {"type": "square", "color": "#ff7f0e", "size": 2.5, "opacity": 1}, "encoding": {"y": {"field": "o", "type": "quantitative", "axis": {"values": [0,20,40,60,80,100], "labelFontSize": 4.5, "labelPadding": 1, "tickSize": 1.5, "domain": false, "title": "Selection Frequency / Total Reward", "titleFont": "Liberation Sans", "titleFontSize": 4, "titlePadding": 1.5}}}}
]
},
{
"width": 164, "height": 73,
"title": {"text": "FedAvg (Random Selection)", "fontSize": 5.5, "offset": -3},
"data": {"name": "b2"},
"view": {"stroke": "#444444", "strokeWidth": 0.7},
"encoding": {"x": {"field": "c", "type": "quantitative", "scale": {"domain": [-1, 60], "nice": false}, "axis": {"values": [0,10,20,30,40,50,60], "labelFontSize": 4.8, "labelPadding": 0, "tickSize": 1, "domain": false, "title": "Client ID", "titleFontSize": 4.8, "titlePadding": 0}}},
"layer": [
{"mark": {"type": "bar", "width": 2.69, "color": "#3f7fb8"}, "encoding": {"y": {"field": "v", "type": "quantitative", "scale": {"domain": [0, 100], "nice": false}, "axis": {"values": [0,20,40,60,80,100], "labelFontSize": 4.5, "labelPadding": 1, "tickSize": 1.5, "domain": false, "title": "Selection Frequency / Total Reward", "titleFont": "Liberation Sans", "titleFontSize": 4, "titlePadding": 1.5}}}},
{"transform": [{"filter": "datum.e"}], "mark": {"type": "rule", "color": "#1b2a3d", "strokeWidth": 1}, "encoding": {"y": {"field": "v", "type": "quantitative", "axis": {"values": [0,20,40,60,80,100], "labelFontSize": 4.5, "labelPadding": 1, "tickSize": 1.5, "domain": false, "title": "Selection Frequency / Total Reward", "titleFont": "Liberation Sans", "titleFontSize": 4, "titlePadding": 1.5}}, "y2": {"datum": 0}}},
{"transform": [{"filter": "isValid(datum.o)"}], "mark": {"type": "square", "color": "#ff7f0e", "size": 2.5, "opacity": 1}, "encoding": {"y": {"field": "o", "type": "quantitative", "axis": {"values": [0,20,40,60,80,100], "labelFontSize": 4.5, "labelPadding": 1, "tickSize": 1.5, "domain": false, "title": "Selection Frequency / Total Reward", "titleFont": "Liberation Sans", "titleFontSize": 4, "titlePadding": 1.5}}}}
]
},
{
"width": 164, "height": 74,
"title": {"text": "Power-of-Choice", "fontSize": 5.5, "offset": -5},
"data": {"name": "b3"},
"view": {"stroke": "#444444", "strokeWidth": 0.7},
"encoding": {"x": {"field": "c", "type": "quantitative", "scale": {"domain": [-1, 60], "nice": false}, "axis": {"values": [0,10,20,30,40,50,60], "labelFontSize": 4.8, "labelPadding": 0, "tickSize": 1, "domain": false, "title": "Client ID", "titleFontSize": 4.8, "titlePadding": 0}}},
"layer": [
{"mark": {"type": "bar", "width": 2.69, "color": "#3f7fb8"}, "encoding": {"y": {"field": "v", "type": "quantitative", "scale": {"domain": [0, 100], "nice": false}, "axis": {"values": [0,20,40,60,80,100], "labelFontSize": 4.5, "labelPadding": 1, "tickSize": 1.5, "domain": false, "title": "Selection Frequency / Total Reward", "titleFont": "Liberation Sans", "titleFontSize": 4, "titlePadding": 1.5}}}},
{"transform": [{"filter": "datum.e"}], "mark": {"type": "rule", "color": "#1b2a3d", "strokeWidth": 1}, "encoding": {"y": {"field": "v", "type": "quantitative", "axis": {"values": [0,20,40,60,80,100], "labelFontSize": 4.5, "labelPadding": 1, "tickSize": 1.5, "domain": false, "title": "Selection Frequency / Total Reward", "titleFont": "Liberation Sans", "titleFontSize": 4, "titlePadding": 1.5}}, "y2": {"datum": 0}}},
{"transform": [{"filter": "isValid(datum.o)"}], "mark": {"type": "square", "color": "#ff7f0e", "size": 2.5, "opacity": 1}, "encoding": {"y": {"field": "o", "type": "quantitative", "axis": {"values": [0,20,40,60,80,100], "labelFontSize": 4.5, "labelPadding": 1, "tickSize": 1.5, "domain": false, "title": "Selection Frequency / Total Reward", "titleFont": "Liberation Sans", "titleFontSize": 4, "titlePadding": 1.5}}}}
]
}
]
}
]
}
